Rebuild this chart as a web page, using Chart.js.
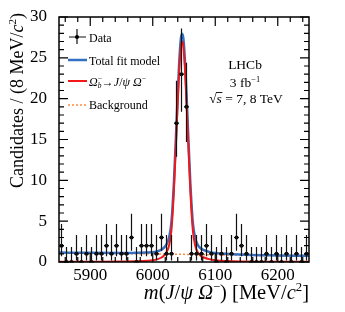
<!DOCTYPE html>
<html>
<head>
<meta charset="utf-8">
<script src="https://cdn.jsdelivr.net/npm/chart.js@4.4.0/dist/chart.umd.min.js"></script>
<style>
  html, body { margin: 0; padding: 0; background: #fff; }
  #wrap { width: 345px; height: 312px; }
</style>
</head>
<body>
<div id="wrap"><canvas id="massChart"></canvas></div>
<script>
// bin centres (8 MeV bins) and event counts
const binMass = [5854, 5862, 5870, 5878, 5886, 5894, 5902, 5910, 5918, 5926,
                 5934, 5942, 5950, 5958, 5966, 5974, 5982, 5990, 5998, 6006,
                 6014, 6022, 6030, 6038, 6046, 6054, 6062, 6070, 6078, 6086,
                 6094, 6102, 6110, 6118, 6126, 6134, 6142, 6150, 6158, 6166,
                 6174, 6182, 6190, 6198, 6206, 6214, 6222, 6230, 6238, 6246];
const counts = [2, 0, 0, 1, 0, 1, 0, 1, 1, 2,
                1, 2, 1, 1, 3, 0, 2, 2, 2, 1,
                3, 1, 1, 17, 23, 19, 1, 1, 1, 2,
                1, 0, 1, 0, 1, 3, 2, 1, 0, 0,
                0, 1, 0, 1, 0, 1, 0, 1, 0, 1];
// 68% Poisson intervals [low, high] per count
const poissonBand = { 0: [0, 1.84], 1: [0.17, 3.30], 2: [0.71, 4.64], 3: [1.37, 5.92],
                      17: [12.9, 22.2], 19: [14.7, 24.4], 23: [18.4, 28.6] };

// fit curves
const curveMass = [5850, 5900, 5950, 6000, 6008, 6014, 6018, 6022, 6026, 6030,
                   6034, 6038, 6042, 6045, 6047, 6049, 6052, 6056, 6060, 6064,
                   6068, 6072, 6076, 6082, 6090, 6100, 6150, 6200, 6250];
const signalFit = [0.02, 0.03, 0.06, 0.2, 0.35, 0.55, 0.8, 1.2, 2.0, 4.0,
                   9.0, 16.0, 23.0, 26.4, 27.0, 26.4, 23.0, 16.0, 9.0, 4.0,
                   2.0, 1.2, 0.8, 0.55, 0.35, 0.22, 0.06, 0.03, 0.02];
const backgroundFit = [1.14, 1.09, 1.04, 0.99, 0.98, 0.97, 0.97, 0.96, 0.96, 0.96,
                       0.95, 0.95, 0.94, 0.94, 0.94, 0.94, 0.93, 0.93, 0.92, 0.92,
                       0.92, 0.91, 0.91, 0.90, 0.89, 0.88, 0.83, 0.78, 0.73];
const totalFit = [1.16, 1.12, 1.10, 1.19, 1.33, 1.52, 1.77, 2.16, 2.96, 4.96,
                  9.95, 16.95, 23.94, 27.34, 27.94, 27.34, 23.93, 16.93, 9.92, 4.92,
                  2.92, 2.11, 1.71, 1.45, 1.24, 1.10, 0.89, 0.81, 0.75];

const xTicks = [5900, 6000, 6100, 6200];
const yTicks = [0, 5, 10, 15, 20, 25, 30];

const SERIF = '"Liberation Serif", "DejaVu Serif", serif';
const BLUE = '#3570c0';
const RED = '#f01818';
const ORANGE = '#ff8a3d';

const pts = (xs, ys) => xs.map((x, i) => ({ x: x, y: ys[i] }));

// text with italics / super- and subscripts
function drawRich(ctx, parts, x, y, size, align) {
  const fontFor = p => (p.i ? 'italic ' : '') + ((p.sup || p.sub) ? size * 0.62 : size) + 'px ' + SERIF;
  let w = 0;
  parts.forEach(p => {
    ctx.font = fontFor(p);
    p.w = ctx.measureText(p.t).width;
    if (!p.ov) w += p.w;
  });
  let cx = align === 'right' ? x - w : align === 'center' ? x - w / 2 : x;
  ctx.textAlign = 'left';
  ctx.textBaseline = 'alphabetic';
  parts.forEach(p => {
    ctx.font = fontFor(p);
    const dy = p.sup ? -size * 0.38 : p.sub ? size * 0.22 : 0;
    ctx.fillText(p.t, cx, y + dy);
    if (!p.ov) cx += p.w;
  });
  return w;
}

const decorations = {
  id: 'decorations',
  afterDatasetsDraw(chart) {
    const ctx = chart.ctx, xs = chart.scales.x, ys = chart.scales.y;
    ctx.save();
    ctx.strokeStyle = '#111';
    ctx.lineWidth = 1.2;
    binMass.forEach((m, i) => {
      const band = poissonBand[counts[i]];
      const x = xs.getPixelForValue(m);
      const y = ys.getPixelForValue(counts[i]);
      const hw = xs.getPixelForValue(m + 4) - x;
      ctx.beginPath();
      ctx.moveTo(x, ys.getPixelForValue(band[1]));
      ctx.lineTo(x, ys.getPixelForValue(band[0]));
      ctx.moveTo(x - hw, y);
      ctx.lineTo(x + hw, y);
      ctx.stroke();
    });
    ctx.restore();
  },
  afterDraw(chart) {
    const ctx = chart.ctx, xs = chart.scales.x, ys = chart.scales.y;
    const a = chart.chartArea;
    ctx.save();
    // frame
    ctx.strokeStyle = '#000';
    ctx.lineWidth = 1.5;
    ctx.strokeRect(a.left, a.top, a.right - a.left, a.bottom - a.top);
    // inward ticks
    ctx.lineWidth = 1.2;
    ctx.beginPath();
    for (let v = 0; v <= 30; v++) {
      const y = ys.getPixelForValue(v);
      const len = v % 5 === 0 ? 9 : 5;
      ctx.moveTo(a.left, y); ctx.lineTo(a.left + len, y);
      ctx.moveTo(a.right, y); ctx.lineTo(a.right - len, y);
    }
    for (let m = 5860; m < 6250; m += 20) {
      const x = xs.getPixelForValue(m);
      const len = m % 100 === 0 ? 9 : 5;
      ctx.moveTo(x, a.bottom); ctx.lineTo(x, a.bottom - len);
      ctx.moveTo(x, a.top); ctx.lineTo(x, a.top + len);
    }
    ctx.stroke();

    // legend
    ctx.fillStyle = '#000';
    ctx.strokeStyle = '#111';
    ctx.lineWidth = 1.2;
    ctx.beginPath();
    ctx.moveTo(77, 29); ctx.lineTo(77, 44);
    ctx.moveTo(69, 37); ctx.lineTo(86, 37);
    ctx.stroke();
    ctx.beginPath(); ctx.arc(77, 37, 2, 0, Math.PI * 2); ctx.fill();
    drawRich(ctx, [{ t: 'Data' }], 89, 41.5, 12, 'left');

    ctx.lineWidth = 2.5; ctx.strokeStyle = BLUE;
    ctx.beginPath(); ctx.moveTo(68, 60); ctx.lineTo(87, 60); ctx.stroke();
    drawRich(ctx, [{ t: 'Total fit model' }], 89, 64.5, 12, 'left');

    ctx.lineWidth = 2; ctx.strokeStyle = RED;
    ctx.beginPath(); ctx.moveTo(68, 81); ctx.lineTo(87, 81); ctx.stroke();
    drawRich(ctx, [{ t: 'Ω', i: true }, { t: 'b', i: true, sub: true, ov: true }, { t: '−', sup: true },
                   { t: '→' }, { t: 'J', i: true }, { t: '/' }, { t: 'ψ Ω', i: true }, { t: '−', sup: true }],
             89, 85.5, 12, 'left');

    ctx.lineWidth = 1.5; ctx.strokeStyle = ORANGE;
    ctx.setLineDash([2, 2]);
    ctx.beginPath(); ctx.moveTo(68, 105); ctx.lineTo(87, 105); ctx.stroke();
    ctx.setLineDash([]);
    drawRich(ctx, [{ t: 'Background' }], 89, 109, 12, 'left');

    // LHCb label
    drawRich(ctx, [{ t: 'LHCb' }], 245, 68.5, 13.5, 'center');
    drawRich(ctx, [{ t: '3 fb' }, { t: '−1', sup: true }], 245, 87, 13.5, 'center');
    const w = drawRich(ctx, [{ t: '√' }, { t: 's', i: true }, { t: ' = 7, 8 TeV' }], 246, 103, 13.5, 'center');
    ctx.font = '13.5px ' + SERIF;
    const rootW = ctx.measureText('√').width;
    ctx.font = 'italic 13.5px ' + SERIF;
    const sW = ctx.measureText('s').width;
    const sx = 246 - w / 2 + rootW;
    ctx.lineWidth = 0.9; ctx.strokeStyle = '#000';
    ctx.beginPath(); ctx.moveTo(sx - 0.5, 92.5); ctx.lineTo(sx + sW + 0.5, 92.5); ctx.stroke();

    // axis titles
    drawRich(ctx, [{ t: 'm', i: true }, { t: '(' }, { t: 'J', i: true }, { t: '/' }, { t: 'ψ Ω', i: true },
                   { t: '−', sup: true }, { t: ') [MeV/' }, { t: 'c', i: true }, { t: '2', sup: true }, { t: ']' }],
             a.right, 299, 20.5, 'right');
    ctx.translate(23, 13);
    ctx.rotate(-Math.PI / 2);
    drawRich(ctx, [{ t: 'Candidates / (8 MeV/' }, { t: 'c', i: true }, { t: '2', sup: true }, { t: ')' }],
             0, 0, 18, 'right');
    ctx.restore();
  }
};

new Chart(document.getElementById('massChart').getContext('2d'), {
  type: 'line',
  data: {
    datasets: [{
      label: 'Data',
      data: pts(binMass, counts),
      showLine: false,
      pointRadius: 2,
      pointBackgroundColor: '#000',
      pointBorderWidth: 0,
      order: 0
    }, {
      label: 'Signal',
      data: pts(curveMass, signalFit),
      borderColor: RED,
      borderWidth: 2,
      pointRadius: 0,
      cubicInterpolationMode: 'monotone',
      order: 1
    }, {
      label: 'Total fit model',
      data: pts(curveMass, totalFit),
      borderColor: BLUE,
      borderWidth: 2.5,
      pointRadius: 0,
      cubicInterpolationMode: 'monotone',
      order: 2
    }, {
      label: 'Background',
      data: pts(curveMass, backgroundFit),
      borderColor: ORANGE,
      borderWidth: 1.5,
      borderDash: [2, 2],
      pointRadius: 0,
      cubicInterpolationMode: 'monotone',
      order: 3
    }]
  },
  options: {
    responsive: true,
    maintainAspectRatio: false,
    animation: false,
    devicePixelRatio: 1,
    layout: { padding: { top: 17, right: 36, left: 0, bottom: 0 } },
    plugins: { legend: { display: false }, tooltip: { enabled: false } },
    scales: {
      x: {
        type: 'linear',
        min: 5850,
        max: 6250,
        grid: { display: false },
        border: { display: false },
        afterBuildTicks: s => { s.ticks = xTicks.map(v => ({ value: v })); },
        afterFit: s => { s.height = 50; },
        ticks: {
          autoSkip: false,
          maxRotation: 0,
          padding: -5,
          color: '#000',
          font: { family: SERIF, size: 17 },
          callback: v => String(v)
        }
      },
      y: {
        min: 0,
        max: 30,
        grid: { display: false },
        border: { display: false },
        afterBuildTicks: s => { s.ticks = yTicks.map(v => ({ value: v })); },
        afterFit: s => { s.width = 59; },
        ticks: {
          padding: 4,
          color: '#000',
          font: { family: SERIF, size: 17 },
          callback: v => String(v)
        }
      }
    }
  },
  plugins: [decorations]
});
</script>
</body>
</html>
